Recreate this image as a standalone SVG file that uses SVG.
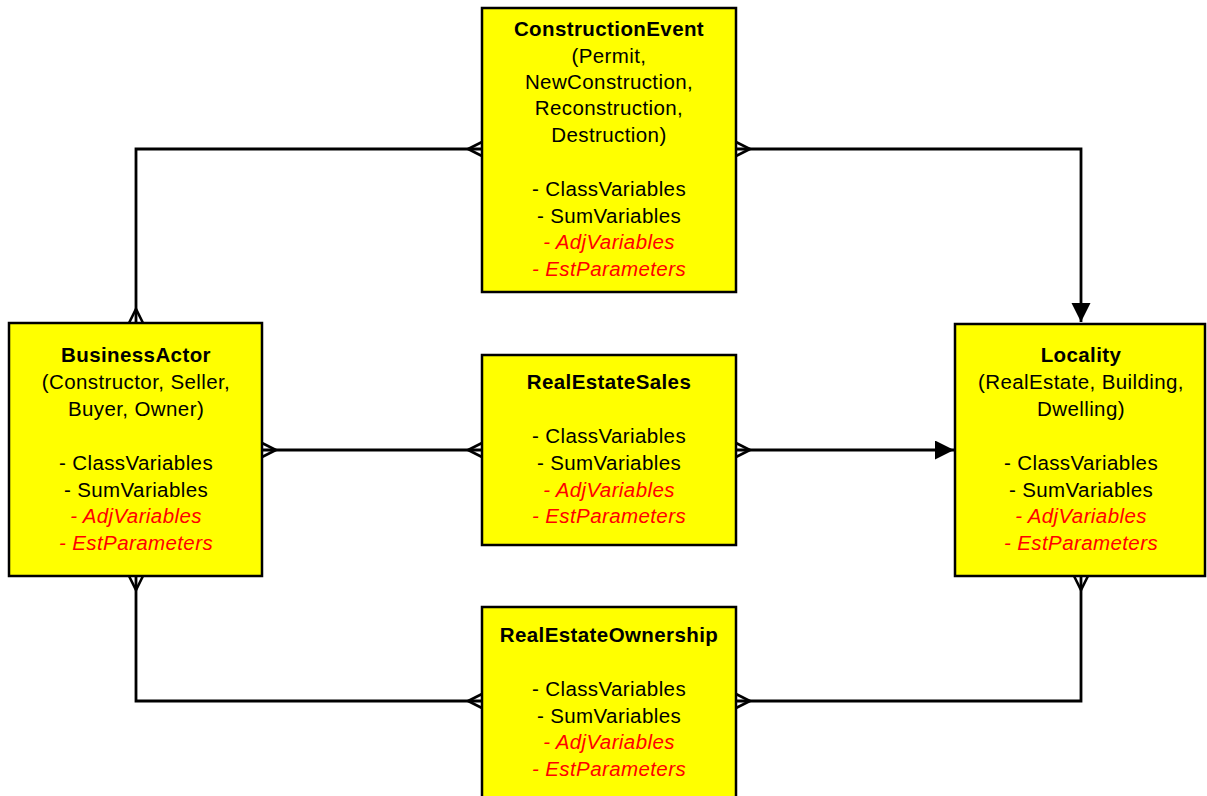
<svg xmlns="http://www.w3.org/2000/svg" width="1207" height="796" viewBox="0 0 1207 796">
  <style>
    .box { fill: #ffff00; stroke: #000; stroke-width: 2.5; }
    .line { fill: none; stroke: #000; stroke-width: 2.8; }
    .crow { fill: none; stroke: #000; stroke-width: 2.6; }
    text { font-family: "Liberation Sans", Arial, sans-serif; font-size: 20.5px; text-anchor: middle; fill: #000; letter-spacing: 0.4px; }
    .title { font-weight: bold; }
    .adj { fill: #ff0000; font-style: italic; }
  </style>
  <defs>
    <marker id="arrow" markerWidth="20" markerHeight="20" refX="19" refY="9.5" orient="auto" markerUnits="userSpaceOnUse">
      <path d="M0,0 L19,9.5 L0,19 Z" fill="#000"/>
    </marker>
  </defs>
  <rect width="1207" height="796" fill="#fff"/>

  <!-- connectors -->
  <g id="connectors">
    <polyline class="line" points="482,149 136,149 136,323"/>
    <polyline class="line" points="736,149 1081,149 1081,322" marker-end="url(#arrow)"/>
    <line class="line" x1="262" y1="450" x2="482" y2="450"/>
    <line class="line" x1="736" y1="450" x2="954" y2="450" marker-end="url(#arrow)"/>
    <polyline class="line" points="136,576 136,701 482,701"/>
    <polyline class="line" points="736,701 1081,701 1081,576"/>
    <!-- crow's feet (many ends) -->
    <path class="crow" d="M482,142 L468,149 L482,156"/>
    <path class="crow" d="M736,142 L750,149 L736,156"/>
    <path class="crow" d="M129,323 L136,309 L143,323"/>
    <path class="crow" d="M262,443 L276,450 L262,457"/>
    <path class="crow" d="M482,443 L468,450 L482,457"/>
    <path class="crow" d="M736,443 L750,450 L736,457"/>
    <path class="crow" d="M129,576 L136,590 L143,576"/>
    <path class="crow" d="M482,694 L468,701 L482,708"/>
    <path class="crow" d="M736,694 L750,701 L736,708"/>
    <path class="crow" d="M1074,576 L1081,590 L1088,576"/>
  </g>

  <g id="constructionEvent">
    <rect class="box" x="482" y="8" width="254" height="284"/>
    <text class="title" x="609" y="36">ConstructionEvent</text>
    <text x="609" y="63">(Permit,</text>
    <text x="609" y="89">NewConstruction,</text>
    <text x="609" y="115">Reconstruction,</text>
    <text x="609" y="142">Destruction)</text>
    <text x="609" y="196">- ClassVariables</text>
    <text x="609" y="223">- SumVariables</text>
    <text class="adj" x="609" y="249">- AdjVariables</text>
    <text class="adj" x="609" y="276">- EstParameters</text>
  </g>

  <g id="businessActor">
    <rect class="box" x="9" y="323" width="253" height="253"/>
    <text class="title" x="136" y="362">BusinessActor</text>
    <text x="136" y="389">(Constructor, Seller,</text>
    <text x="136" y="416">Buyer, Owner)</text>
    <text x="136" y="470">- ClassVariables</text>
    <text x="136" y="497">- SumVariables</text>
    <text class="adj" x="136" y="523">- AdjVariables</text>
    <text class="adj" x="136" y="550">- EstParameters</text>
  </g>

  <g id="realEstateSales">
    <rect class="box" x="482" y="355" width="254" height="190"/>
    <text class="title" x="609" y="389">RealEstateSales</text>
    <text x="609" y="443">- ClassVariables</text>
    <text x="609" y="470">- SumVariables</text>
    <text class="adj" x="609" y="497">- AdjVariables</text>
    <text class="adj" x="609" y="523">- EstParameters</text>
  </g>

  <g id="locality">
    <rect class="box" x="955" y="324" width="250" height="252"/>
    <text class="title" x="1081" y="362">Locality</text>
    <text x="1081" y="389">(RealEstate, Building,</text>
    <text x="1081" y="416">Dwelling)</text>
    <text x="1081" y="470">- ClassVariables</text>
    <text x="1081" y="497">- SumVariables</text>
    <text class="adj" x="1081" y="523">- AdjVariables</text>
    <text class="adj" x="1081" y="550">- EstParameters</text>
  </g>

  <g id="realEstateOwnership">
    <rect class="box" x="482" y="607" width="254" height="200"/>
    <text class="title" x="609" y="642">RealEstateOwnership</text>
    <text x="609" y="696">- ClassVariables</text>
    <text x="609" y="723">- SumVariables</text>
    <text class="adj" x="609" y="749">- AdjVariables</text>
    <text class="adj" x="609" y="776">- EstParameters</text>
  </g>
</svg>
